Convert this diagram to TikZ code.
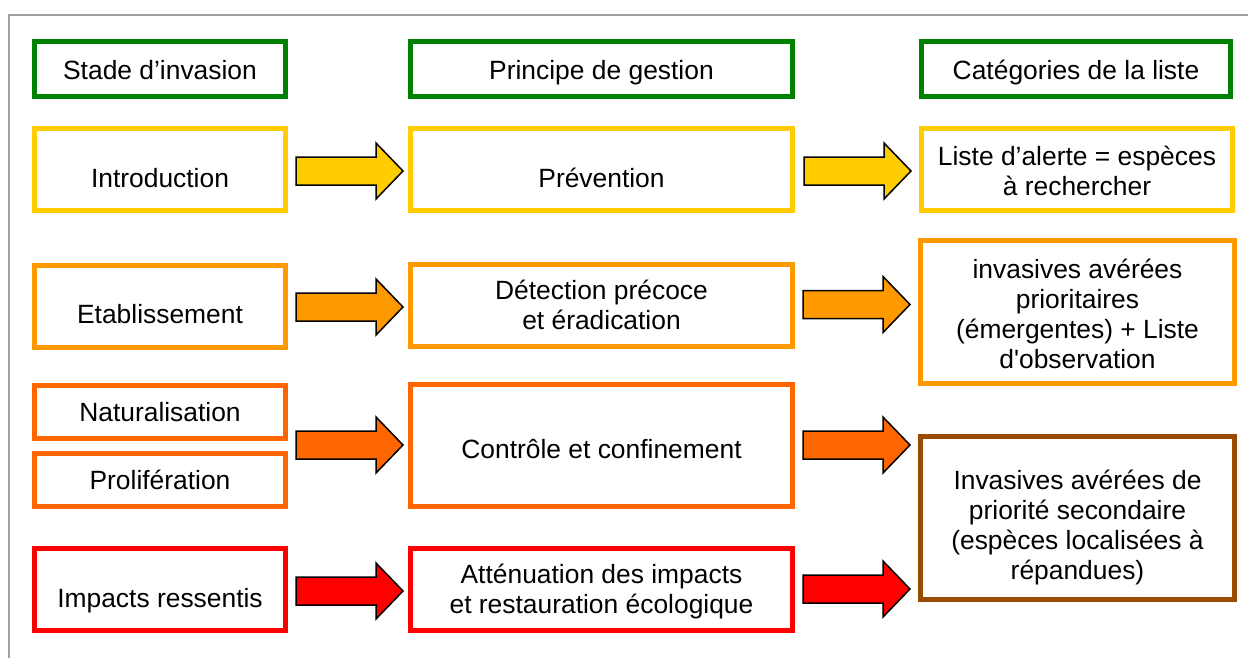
\documentclass[tikz,border=0pt]{standalone}
\usepackage{fontspec}
\setmainfont{Liberation Sans}[Ligatures=TeXOff]
\definecolor{cgreen}{RGB}{0,128,0}
\definecolor{cyellow}{RGB}{255,204,0}
\definecolor{clorange}{RGB}{255,153,0}
\definecolor{corange}{RGB}{255,102,0}
\definecolor{cred}{RGB}{255,0,0}
\definecolor{cbrown}{RGB}{153,76,0}
\definecolor{cframe}{RGB}{160,160,160}
\tikzset{
  box/.style={draw=#1, line width=5pt, fill=white, rectangle, inner sep=0pt, align=center},
  txt/.style={inner sep=0pt, align=center, font=\fontsize{26.4}{30}\selectfont},
  btxt/.style={txt, anchor=base},
  pics/barrow/.style={code={
    \draw[fill=#1, draw=black, line width=1.5pt, line join=miter]
      (0,-14) -- (80,-14) -- (80,-28) -- (107,0) -- (80,28) -- (80,14) -- (0,14) -- cycle;}}
}
\begin{document}
\begin{tikzpicture}[x=1pt,y=-1pt]
\useasboundingbox (0,0) rectangle (1248,657);
\fill[white] (0,0) rectangle (1248,657);
\draw[cframe, line width=1.5pt] (9,15) rectangle (1270,680);

% headers
\node[box=cgreen, minimum width=251, minimum height=55] (h1) at (160,69) {};
\node[btxt] (h1t) at ([yshift=-10pt]h1.center) {Stade d’invasion};
\node[box=cgreen, minimum width=382, minimum height=55] (h2) at (601.5,69) {};
\node[btxt] (h2t) at ([yshift=-10pt]h2.center) {Principe de gestion};
\node[box=cgreen, minimum width=309, minimum height=55] (h3) at (1076,69) {};
\node[btxt] (h3t) at ([yshift=-10pt]h3.center) {Catégories de la liste};

% row 1
\node[box=cyellow, minimum width=251, minimum height=82] (intro) at (160,169.5) {};
\node[btxt] (introt) at ([yshift=-17.5pt]intro.center) {Introduction};
\node[box=cyellow, minimum width=382, minimum height=82] (prev) at (601.5,169.5) {};
\node[btxt] (prevt) at ([yshift=-17.5pt]prev.center) {Prévention};
\node[box=cyellow, minimum width=311, minimum height=82] (alerte) at (1077,169.5) {};
\node[txt] (alertet) at ([yshift=-1.5pt]alerte.center) {Liste d’alerte = espèces\\à rechercher};

% row 2
\node[box=clorange, minimum width=251, minimum height=82] (etab) at (160,306.5) {};
\node[btxt] (etabt) at ([yshift=-17pt]etab.center) {Etablissement};
\node[box=clorange, minimum width=382, minimum height=82] (detect) at (601.5,305) {};
\node[txt] (detectt) at (detect.center) {Détection précoce\\et éradication};
\node[box=clorange, minimum width=314, minimum height=143] (prior) at (1077.5,312) {};
\node[txt] (priort) at ([yshift=-1.5pt]prior.center) {invasives avérées\\prioritaires\\(émergentes) + Liste\\d'observation};

% row 3
\node[box=corange, minimum width=251, minimum height=53] (natur) at (160,412) {};
\node[btxt] (naturt) at ([yshift=-9pt]natur.center) {Naturalisation};
\node[box=corange, minimum width=251, minimum height=53] (prolif) at (160,480) {};
\node[btxt] (prolift) at ([yshift=-9.5pt]prolif.center) {Prolifération};
\node[box=corange, minimum width=382, minimum height=122] (control) at (601.5,445.5) {};
\node[btxt] (controlt) at ([yshift=-12.5pt]control.center) {Contrôle et confinement};

% row 4
\node[box=cred, minimum width=251, minimum height=82] (impact) at (160,589.5) {};
\node[btxt] (impactt) at ([yshift=-17.5pt]impact.center) {Impacts ressentis};
\node[box=cred, minimum width=382, minimum height=82] (atten) at (601.5,589.5) {};
\node[txt] (attent) at ([yshift=-2pt]atten.center) {Atténuation des impacts\\et restauration écologique};

% brown box
\node[box=cbrown, minimum width=314, minimum height=163] (brown) at (1077.5,518) {};
\node[txt] (brownt) at ([yshift=-10pt]brown.center) {Invasives avérées de\\priorité secondaire\\(espèces localisées à\\répandues)};

% arrows
\pic at (296,171) {barrow=cyellow};
\pic at (804,171) {barrow=cyellow};
\pic at (296,307) {barrow=clorange};
\pic at (803,304.5) {barrow=clorange};
\pic at (296,445) {barrow=corange};
\pic at (803,445) {barrow=corange};
\pic at (296,591) {barrow=cred};
\pic at (803,589) {barrow=cred};
\end{tikzpicture}
\end{document}
